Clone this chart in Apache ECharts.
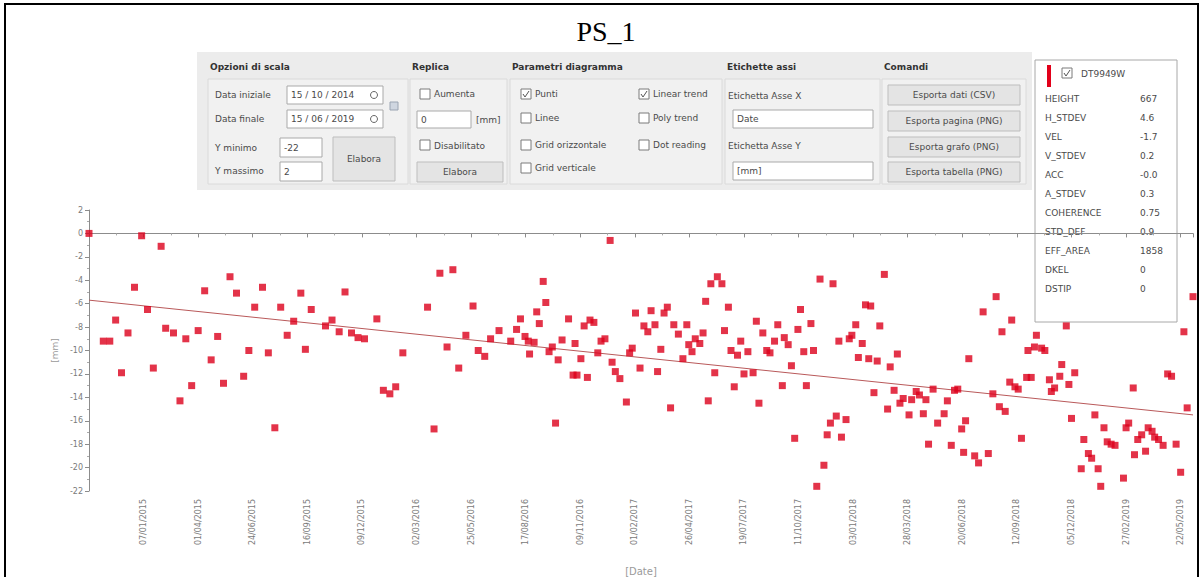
<!DOCTYPE html>
<html>
<head>
<meta charset="UTF-8">
<title>PS_1</title>
<script src="https://cdn.jsdelivr.net/npm/echarts@6/dist/echarts.min.js"></script>
<style>
  html, body { margin: 0; padding: 0; background: #fff; }
  #main { width: 1203px; height: 577px; }
</style>
</head>
<body>
<div id="main"></div>
<script>
// first acquisition, day offsets of each acquisition, displacement in mm
const startDate = '2014-10-15'
const dayOffsets = [
  0, 22, 32, 41, 50, 60, 70, 81, 90, 99, 111, 118, 130, 140, 149, 158, 168, 178, 188, 198,
  207, 217, 227, 238, 246, 255, 267, 276, 286, 295, 305, 315, 326, 333, 342, 364, 374, 385, 394, 404,
  414, 424, 443, 453, 463, 472, 483, 521, 531, 540, 551, 560, 569, 580, 591, 599, 609, 618, 631, 649,
  658, 664, 671, 676, 678, 685, 689, 693, 699, 703, 708, 713, 718, 722, 728, 738, 745, 748, 751, 757,
  762, 767, 771, 777, 783, 788, 794, 802, 805, 810, 817, 827, 832, 836, 841, 848, 854, 860, 865, 871,
  875, 880, 885, 890, 895, 900, 907, 914, 920, 923, 928, 933, 940, 945, 949, 953, 957, 963, 967, 974,
  978, 984, 988, 993, 998, 1003, 1008, 1014, 1022, 1027, 1031, 1037, 1043, 1048, 1055, 1060, 1067, 1070, 1076, 1081,
  1086, 1091, 1095, 1100, 1104, 1111, 1115, 1120, 1125, 1131, 1136, 1141, 1145, 1150, 1154, 1158, 1165, 1170, 1174, 1180,
  1184, 1190, 1195, 1200, 1203, 1208, 1213, 1217, 1224, 1229, 1233, 1239, 1244, 1248, 1253, 1262, 1266, 1273, 1278, 1284,
  1288, 1292, 1299, 1306, 1316, 1321, 1327, 1332, 1337, 1343, 1346, 1349, 1354, 1363, 1369, 1376, 1384, 1391, 1396, 1401,
  1405, 1410, 1417, 1420, 1425, 1430, 1435, 1443, 1445, 1450, 1455, 1458, 1466, 1471, 1478, 1481, 1486, 1494, 1497, 1504,
  1508, 1512, 1517, 1527, 1531, 1538, 1543, 1548, 1553, 1557, 1562, 1567, 1573, 1579, 1592, 1596, 1600, 1607, 1609, 1614,
  1620, 1626, 1630, 1636, 1640, 1646, 1653, 1660, 1666, 1673, 1680, 1685, 1690, 1699
]
const displacement = [
  0, -9.2, -9.2, -7.4, -11.9, -8.5, -4.6, -0.2, -6.5, -11.5, -1.1, -8.1, -8.5, -14.3, -9.0, -13.0, -8.3, -4.9, -10.8, -8.8,
  -12.8, -3.7, -5.1, -12.2, -10.0, -6.3, -4.6, -10.2, -16.6, -6.3, -8.7, -7.5, -5.1, -9.9, -6.5, -7.9, -7.4, -8.4, -5.0, -8.5,
  -8.9, -9.0, -7.3, -13.4, -13.7, -13.1, -10.2, -6.3, -16.7, -3.4, -9.7, -3.1, -11.5, -8.7, -6.2, -10.0, -10.5, -9.0, -8.3, -9.2,
  -8.2, -7.3, -8.8, -9.2, -10.3, -9.3, -6.7, -7.7, -4.1, -5.9, -10.1, -9.7, -16.2, -10.8, -9.1, -7.3, -12.1, -9.4, -12.1, -10.7,
  -7.9, -12.3, -7.4, -7.6, -10.2, -9.2, -9.0, -0.6, -11.0, -11.8, -12.4, -14.4, -10.2, -9.8, -6.8, -11.5, -7.9, -8.4, -6.6, -7.8,
  -11.8, -9.9, -6.8, -6.3, -14.9, -7.8, -8.6, -10.7, -7.8, -9.5, -10.1, -9.0, -9.4, -8.5, -5.8, -14.3, -4.3, -11.9, -3.7, -4.3,
  -8.3, -6.3, -10.0, -13.1, -10.4, -9.2, -12.0, -10.1, -11.9, -7.5, -14.5, -8.5, -10.0, -10.2, -9.2, -7.8, -13.0, -8.9, -9.5, -11.3,
  -17.5, -8.2, -6.5, -10.1, -13.0, -7.7, -10.0, -21.6, -3.9, -19.8, -17.2, -16.2, -4.3, -15.6, -9.2, -17.4, -15.9, -9.0, -8.7, -7.8,
  -10.6, -9.4, -6.1, -10.7, -6.2, -13.6, -10.9, -7.9, -3.5, -15.0, -11.4, -13.4, -10.3, -14.5, -14.1, -15.5, -14.2, -13.5, -13.8, -15.4,
  -14.2, -18.0, -13.3, -16.2, -15.4, -14.3, -18.1, -13.4, -13.3, -16.7, -18.7, -16.0, -10.7, -19.0, -19.6, -6.7, -18.8, -13.7, -5.4, -14.8,
  -8.4, -15.2, -12.7, -7.4, -13.1, -13.3, -17.5, -12.3, -10.0, -12.3, -9.7, -8.7, -9.8, -10.0, -12.5, -13.5, -13.2, -12.2, -11.2, -7.9,
  -12.9, -15.8, -11.9, -20.1, -17.6, -18.8, -19.2, -15.5, -20.1, -21.6, -16.6, -17.8, -18.0, -18.1, -20.9, -16.6, -16.2, -13.2, -18.9, -17.6,
  -17.2, -18.6, -16.6, -16.9, -17.4, -17.6, -18.1, -12.0, -12.2, -18.0, -20.4, -8.4, -14.9, -5.4
]
// linear trend as drawn, value at first and last day
const trendValues = [-5.7, -15.5]
const lastDay = 1699
const labelStepDays = 84

const legendRows = [
  ['HEIGHT', '667'], ['H_STDEV', '4.6'], ['VEL', '-1.7'], ['V_STDEV', '0.2'], ['ACC', '-0.0'],
  ['A_STDEV', '0.3'], ['COHERENCE', '0.75'], ['STD_DEF', '0.9'], ['EFF_AREA', '1858'], ['DKEL', '0'], ['DSTIP', '0']
]

const DAY = 86400000
const t0 = Date.parse(startDate)
const points = dayOffsets.map((d, i) => [t0 + d * DAY, displacement[i]])
const trend = [[t0, trendValues[0]], [t0 + lastDay * DAY, trendValues[1]]]

function pad(n) { return n < 10 ? '0' + n : '' + n }
function fmtDate(t) {
  const d = new Date(t)
  return pad(d.getUTCDate()) + '/' + pad(d.getUTCMonth() + 1) + '/' + d.getUTCFullYear()
}

const UI_FONT = '"DejaVu Sans", "Noto Sans", sans-serif'
const TXT = '#4a4a4a'

// small helpers for the control panel
function rect(x, y, w, h, fill, stroke) {
  return { type: 'rect', silent: true, shape: { x: x, y: y, width: w, height: h },
    style: { fill: fill, stroke: stroke || null, lineWidth: 1 } }
}
function text(x, y, s, opts) {
  return { type: 'text', silent: true, x: x, y: y,
    style: Object.assign({ text: s, fill: TXT, font: '9px ' + UI_FONT,
      textAlign: 'left', textVerticalAlign: 'middle', align: 'left', verticalAlign: 'middle' }, opts || {}) }
}
function checkbox(x, y, checked) {
  const out = [rect(x, y, 10, 10, '#fff', '#7a7a7a')]
  if (checked) {
    out.push({ type: 'polyline', silent: true, shape: { points: [[x + 2, y + 5], [x + 4, y + 8], [x + 8, y + 2]] },
      style: { stroke: '#555', lineWidth: 1, fill: null } })
  }
  return out
}
function input(x, y, w, h, s) {
  return [rect(x, y, w, h, '#fff', '#a9a9a9'), text(x + 4, y + h / 2, s)]
}
function button(x, y, w, h, s) {
  return [rect(x, y, w, h, '#e4e4e4', '#bdbdbd'),
    text(x + w / 2, y + h / 2, s, { textAlign: 'center', align: 'center' })]
}

let g = []
// outer frame and title
g.push({ type: 'rect', silent: true, shape: { x: 5, y: 4, width: 1193, height: 620 },
  style: { fill: null, stroke: '#000', lineWidth: 2 } })
g.push(text(606, 31, 'PS_1', { font: '28px "Liberation Serif", "Times New Roman", serif', fill: '#000',
  textAlign: 'center', align: 'center' }))

// control panel
g.push(rect(197, 52, 835, 138, '#ececec'))
const groups = [[208, 200, 'Opzioni di scala'], [410, 97, 'Replica'], [510, 212, 'Parametri diagramma'],
  [725, 155, 'Etichette assi'], [882, 144, 'Comandi']]
groups.forEach(function (gr) {
  g.push(rect(gr[0], 79, gr[1], 105, '#f1f1f1', '#dadada'))
  g.push(text(gr[0] + 2, 67, gr[2], { font: 'bold 9px ' + UI_FONT, fill: '#333' }))
})
// Opzioni di scala
g.push(text(215, 95, 'Data iniziale'))
g = g.concat(input(287, 86, 96, 18, '15 / 10 / 2014'))
g.push({ type: 'circle', silent: true, shape: { cx: 374, cy: 95, r: 3.5 }, style: { fill: null, stroke: '#666' } })
g.push(text(215, 119, 'Data finale'))
g = g.concat(input(287, 110, 96, 18, '15 / 06 / 2019'))
g.push({ type: 'circle', silent: true, shape: { cx: 374, cy: 119, r: 3.5 }, style: { fill: null, stroke: '#666' } })
g.push(rect(390, 102, 8, 8, '#cfd6e0', '#9aa4b2'))
g.push(text(215, 148, 'Y minimo'))
g = g.concat(input(280, 138, 42, 19, '-22'))
g.push(text(215, 171, 'Y massimo'))
g = g.concat(input(280, 162, 42, 19, '2'))
g = g.concat(button(333, 137, 62, 44, 'Elabora'))
// Replica
g = g.concat(checkbox(420, 89, false))
g.push(text(434, 94, 'Aumenta'))
g = g.concat(input(417, 111, 54, 17, '0'))
g.push(text(476, 120, '[mm]'))
g = g.concat(checkbox(420, 140, false))
g.push(text(434, 146, 'Disabilitato'))
g = g.concat(button(417, 162, 86, 20, 'Elabora'))
// Parametri diagramma
const leftChecks = [['Punti', true], ['Linee', false], ['Grid orizzontale', false], ['Grid verticale', false]]
const rightChecks = [['Linear trend', true], ['Poly trend', false], ['Dot reading', false]]
const checkRows = [89, 113, 140, 163]
leftChecks.forEach(function (c, i) {
  g = g.concat(checkbox(521, checkRows[i], c[1]))
  g.push(text(535, checkRows[i] + 5, c[0]))
})
rightChecks.forEach(function (c, i) {
  g = g.concat(checkbox(639, checkRows[i], c[1]))
  g.push(text(653, checkRows[i] + 5, c[0]))
})
// Etichette assi
g.push(text(728, 96, 'Etichetta Asse X'))
g = g.concat(input(733, 110, 140, 18, 'Date'))
g.push(text(728, 146, 'Etichetta Asse Y'))
g = g.concat(input(733, 162, 140, 18, '[mm]'))
// Comandi
g = g.concat(button(888, 85, 132, 20, 'Esporta dati (CSV)'))
g = g.concat(button(888, 111, 132, 20, 'Esporta pagina (PNG)'))
g = g.concat(button(888, 137, 132, 20, 'Esporta grafo (PNG)'))
g = g.concat(button(888, 162, 132, 20, 'Esporta tabella (PNG)'))

// point info box, drawn over the plot
const info = []
info.push(rect(1035, 60, 142, 262, '#fff', '#a8a8a8'))
info.push(rect(1047, 65, 4, 22, '#e2001a'))
checkbox(1062, 68, true).forEach(function (e) { info.push(e) })
info.push(text(1081, 74, 'DT9949W'))
legendRows.forEach(function (r, i) {
  info.push(text(1045, 99 + i * 19, r[0]))
  info.push(text(1140, 99 + i * 19, r[1]))
})
g.push({ type: 'group', z: 100, children: info })

const chart = echarts.init(document.getElementById('main'), null, { renderer: 'svg' })
chart.setOption({
  animation: false,
  backgroundColor: '#fff',
  grid: { left: 89, right: 10, top: 210, bottom: 86, containLabel: false },
  xAxis: {
    type: 'value',
    min: t0,
    max: t0 + lastDay * DAY,
    interval: labelStepDays * DAY,
    name: '[Date]',
    nameLocation: 'middle',
    nameGap: 75,
    nameTextStyle: { color: '#9a9a9a', fontSize: 10, fontFamily: UI_FONT },
    axisLine: { lineStyle: { color: '#8c8c8c' } },
    axisTick: { length: 4, lineStyle: { color: '#8c8c8c' } },
    minorTick: { show: true, splitNumber: 2, length: 2, lineStyle: { color: '#aaa' } },
    splitLine: { show: false },
    axisLabel: {
      rotate: 90, color: '#7a7a7a', fontSize: 8, fontFamily: UI_FONT, margin: 8,
      showMinLabel: false, showMaxLabel: false,
      formatter: function (v) { return fmtDate(v) }
    }
  },
  yAxis: {
    type: 'value',
    min: -22,
    max: 2,
    interval: 2,
    name: '[mm]',
    nameLocation: 'middle',
    nameGap: 22,
    nameRotate: 90,
    nameTextStyle: { color: '#9a9a9a', fontSize: 9, fontFamily: UI_FONT },
    axisLine: { show: true, lineStyle: { color: '#8c8c8c' } },
    axisTick: { show: true, length: 4, lineStyle: { color: '#8c8c8c' } },
    minorTick: { show: true, splitNumber: 2, length: 2, lineStyle: { color: '#aaa' } },
    splitLine: { show: false },
    axisLabel: { color: '#7a7a7a', fontSize: 8, fontFamily: UI_FONT, margin: 6 }
  },
  series: [
    {
      type: 'line',
      data: trend,
      symbol: 'none',
      lineStyle: { color: '#b9595a', width: 1 },
      silent: true,
      z: 1
    },
    {
      type: 'scatter',
      data: points,
      symbol: 'rect',
      symbolSize: 7,
      itemStyle: { color: '#dc001b' },
      z: 2
    }
  ],
  graphic: g
})
</script>
</body>
</html>
